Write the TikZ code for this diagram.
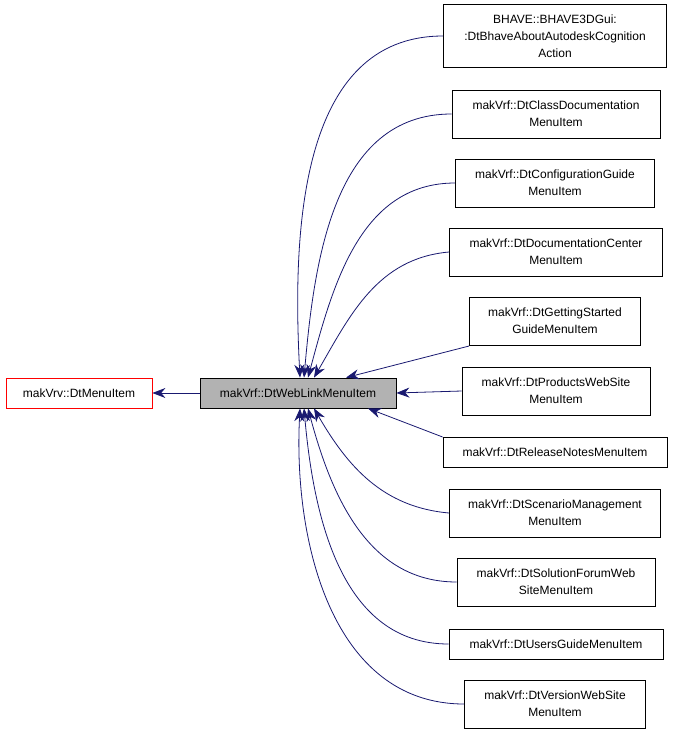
\documentclass[tikz,border=0pt]{standalone}
\usepackage{fontspec}
\setmainfont{Liberation Sans}
\usetikzlibrary{arrows.meta}
\definecolor{edgeblue}{RGB}{25,25,112}
\tikzset{
  cls/.style={draw=black, fill=white, align=center, inner sep=2pt, line width=0.8pt,
    font=\fontsize{12}{17}\selectfont, minimum height=30pt},
  twoline/.style={cls, minimum height=48pt},
  edge/.style={draw=edgeblue, line width=0.8pt, {Stealth[length=13pt,width=10pt]}-},
}
\begin{document}
\begin{tikzpicture}[x=1pt, y=-1pt]
  \useasboundingbox (0,0) rectangle (675,736);

  \node [cls, draw=red, minimum width=146pt] (menu) at (79,393) {makVrv::DtMenuItem};
  \node [cls, fill=black!30, minimum width=196pt] (web) at (298,393) {makVrf::DtWebLinkMenuItem};

  \node [cls, minimum height=63pt, minimum width=223pt] (bhave) at (555,36) {BHAVE::BHAVE3DGui:\\:DtBhaveAboutAutodeskCognition\\Action};
  \node [twoline, minimum width=208pt] (classdoc) at (556,114) {makVrf::DtClassDocumentation\\MenuItem};
  \node [twoline, minimum width=199pt] (config) at (555,183) {makVrf::DtConfigurationGuide\\MenuItem};
  \node [twoline, minimum width=213pt] (doccenter) at (556,252) {makVrf::DtDocumentationCenter\\MenuItem};
  \node [twoline, minimum width=171pt] (started) at (555,321) {makVrf::DtGettingStarted\\GuideMenuItem};
  \node [twoline, minimum width=188pt] (products) at (556,391) {makVrf::DtProductsWebSite\\MenuItem};
  \node [cls, minimum width=224pt] (release) at (555,452) {makVrf::DtReleaseNotesMenuItem};
  \node [twoline, minimum width=211pt] (scenario) at (555,513) {makVrf::DtScenarioManagement\\MenuItem};
  \node [twoline, minimum width=198pt] (forum) at (556,582) {makVrf::DtSolutionForumWeb\\SiteMenuItem};
  \node [cls, minimum width=214pt] (users) at (556,644) {makVrf::DtUsersGuideMenuItem};
  \node [twoline, minimum width=181pt] (version) at (555,704) {makVrf::DtVersionWebSite\\MenuItem};

  % inheritance edges
  \draw [edge] (menu.east) -- (web.west);
  \draw [edge] ([xshift=2pt]web.north) to[out=93, in=180] (bhave.west);
  \draw [edge] ([xshift=6pt]web.north) to[out=85, in=180] (classdoc.west);
  \draw [edge] ([xshift=10pt]web.north) to[out=75, in=180] (config.west);
  \draw [edge] ([xshift=16pt]web.north) to[out=60, in=185] (doccenter.west);
  \draw [edge] ([xshift=48pt]web.north) -- (started.west |- 0,346);
  \draw [edge] (web.east) -- (products.west);
  \draw [edge] ([xshift=70pt]web.south) -- (release.west |- 0,437);
  \draw [edge] ([xshift=16pt]web.south) to[out=-60, in=175] (scenario.west);
  \draw [edge] ([xshift=10pt]web.south) to[out=-75, in=180] (forum.west);
  \draw [edge] ([xshift=6pt]web.south) to[out=-85, in=180] (users.west);
  \draw [edge] ([xshift=2pt]web.south) to[out=-93, in=180] (version.west);
\end{tikzpicture}
\end{document}
